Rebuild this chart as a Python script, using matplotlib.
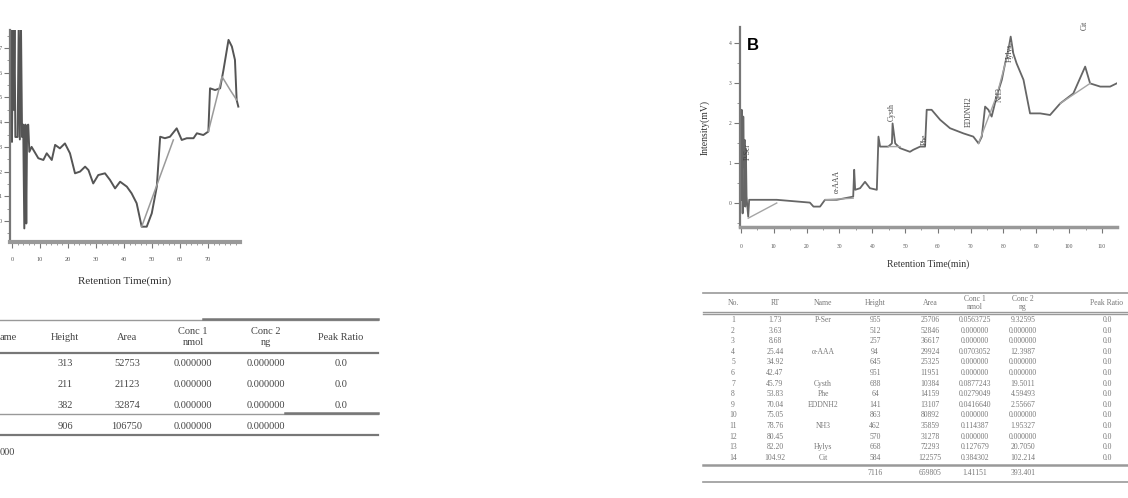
import numpy as np
import matplotlib
matplotlib.use("Agg")
import matplotlib.pyplot as plt
from matplotlib.ticker import MultipleLocator
from matplotlib.lines import Line2D

W, H = 1128, 498
SERIF = ["Liberation Serif", "DejaVu Serif"]
plt.rcParams['font.family'] = SERIF

# ---- panel A chromatogram (left, cut off at the figure edge) ----
a_time = [-0.5, -0.3, 0.0, 0.3, 0.6, 0.9, 1.2, 2.0, 2.4, 2.8, 3.2, 3.6, 4.0, 4.4, 4.8,
          5.1, 5.4, 5.8, 6.2, 7.0, 9.4, 11.2, 12.4, 14.2, 15.4, 17.1, 18.9, 20.7, 22.5,
          24.3, 26.1, 27.3, 29.0, 30.8, 33.2, 35.0, 36.8, 38.6, 41.0, 42.7, 44.5, 46.3,
          48.1, 49.9, 51.7, 52.9, 54.6, 56.4, 58.8, 60.6, 62.4, 64.8, 66.0, 68.3, 70.1,
          70.7, 72.5, 74.3, 75.5, 77.3, 78.5, 79.6, 80.2, 80.8]
a_signal = [4.0, 8.0, 3.2, 8.0, 4.5, 8.0, 3.4, 3.4, 8.0, 3.3, 8.0, 3.4, 3.9, -0.3, 3.9,
            -0.1, 3.8, 3.9, 2.8, 3.0, 2.54, 2.47, 2.74, 2.47, 3.08, 2.94, 3.14, 2.74, 1.93,
            2.0, 2.2, 2.06, 1.52, 1.86, 1.93, 1.66, 1.32, 1.59, 1.39, 1.12, 0.72, -0.23,
            -0.23, 0.31, 1.39, 3.41, 3.35, 3.41, 3.75, 3.28, 3.35, 3.35, 3.55, 3.48, 3.62,
            5.37, 5.30, 5.37, 6.11, 7.33, 7.06, 6.52, 4.90, 4.63]
a_base_time = [46.3, 57.6, np.nan, 70.1, 75.0, 77.9, 80.2]
a_base_signal = [-0.23, 3.28, np.nan, 3.62, 5.84, 5.30, 4.90]
a_xticks = [0, 10, 20, 30, 40, 50, 60, 70]
a_yticks = [0, 1, 2, 3, 4, 5, 6, 7]

# ---- panel A table ----
a_headers = ["Height", "Area", "Conc 1\nnmol", "Conc 2\nng", "Peak Ratio"]
a_height = ["313", "211", "382"]
a_area = ["52753", "21123", "32874"]
a_conc1 = ["0.000000", "0.000000", "0.000000"]
a_conc2 = ["0.000000", "0.000000", "0.000000"]
a_ratio = ["0.0", "0.0", "0.0"]
a_total = ["906", "106750", "0.000000", "0.000000", ""]

# ---- panel B chromatogram ----
b_time = [0.0, 0.2, 0.5, 0.7, 0.9, 1.1, 1.3, 1.5, 1.7, 2.2, 2.5, 10.9, 21.0, 22.1, 24.1,
          25.6, 29.2, 34.2, 34.5, 34.8, 36.3, 37.8, 39.3, 41.4, 41.9, 42.4, 44.9, 46.0,
          46.2, 47.0, 48.5, 51.5, 52.5, 54.6, 56.1, 56.6, 58.1, 60.7, 63.7, 67.8, 70.8,
          72.4, 73.4, 74.4, 75.4, 76.4, 77.9, 79.5, 80.5, 81.5, 82.2, 83.0, 84.0, 86.1,
          88.1, 91.2, 94.2, 97.3, 101.3, 104.9, 106.4, 109.5, 112.5, 114.5]
b_signal = [0.08, 2.33, -0.26, 2.16, 0.91, 1.58, -0.09, 1.33, 0.16, -0.34, 0.08, 0.08,
            0.01, -0.09, -0.09, 0.08, 0.08, 0.16, 0.83, 0.33, 0.37, 0.53, 0.37, 0.33,
            1.66, 1.41, 1.41, 1.49, 1.99, 1.49, 1.37, 1.28, 1.33, 1.41, 1.41, 2.33, 2.33,
            2.08, 1.87, 1.74, 1.66, 1.49, 1.66, 2.41, 2.33, 2.16, 2.66, 3.08, 3.49, 3.83,
            4.16, 3.74, 3.49, 3.08, 2.24, 2.24, 2.20, 2.49, 2.74, 3.41, 2.99, 2.91, 2.91,
            2.99]
b_base_time = [2.2, 10.9, np.nan, 25.6, 34.2, np.nan, 44.9, 48.5, np.nan, 72.4, 78.0,
               82.2, np.nan, 97.3, 106.4]
b_base_signal = [-0.38, 0.0, np.nan, 0.08, 0.12, np.nan, 1.41, 1.41, np.nan, 1.49, 2.7,
                 4.0, np.nan, 2.49, 2.99]
b_xticks = [0, 10, 20, 30, 40, 50, 60, 70, 80, 90, 100, 110]
b_yticks = [0, 1, 2, 3, 4]
peak_names = ["P-Ser", "α-AAA", "Cysth", "Phe", "EDDNH2", "NH3", "Hylys", "Cit"]
peak_x = [2.2, 29.2, 46.0, 56.0, 69.3, 78.8, 82.0, 104.9]
peak_y = [1.28, 0.55, 2.27, 1.58, 2.28, 2.70, 3.75, 4.45]

# ---- panel B table ----
b_headers = ["No.", "RT", "Name", "Height", "Area", "Conc 1\nnmol", "Conc 2\nng", "Peak Ratio"]
b_no = ["1", "2", "3", "4", "5", "6", "7", "8", "9", "10", "11", "12", "13", "14"]
b_rt = ["1.73", "3.63", "8.68", "25.44", "34.92", "42.47", "45.79", "53.83", "70.04",
        "75.05", "78.76", "80.45", "82.20", "104.92"]
b_name = ["P-Ser", "", "", "α-AAA", "", "", "Cysth", "Phe", "EDDNH2", "", "NH3", "",
          "Hylys", "Cit"]
b_height = ["955", "512", "257", "94", "645", "951", "688", "64", "141", "863", "462",
            "570", "668", "584"]
b_area = ["25706", "52846", "36617", "29924", "25325", "11951", "10384", "14159", "13107",
          "80892", "35859", "31278", "72293", "122575"]
b_conc1 = ["0.0563725", "0.000000", "0.000000", "0.0703052", "0.000000", "0.000000",
           "0.0877243", "0.0279049", "0.0416640", "0.000000", "0.114387", "0.000000",
           "0.127679", "0.384302"]
b_conc2 = ["9.32595", "0.000000", "0.000000", "12.3987", "0.000000", "0.000000",
           "19.5011", "4.59493", "2.55667", "0.000000", "1.95327", "0.000000",
           "20.7050", "102.214"]
b_ratio = ["0.0"] * 14
b_total = ["", "", "", "7116", "659805", "1.41151", "393.401", ""]


def fx(x):
    return x / W


def fy(y):
    return 1 - y / H


def hline(fig, x0, x1, y, lw=1.0, color="#888888"):
    fig.add_artist(Line2D([fx(x0), fx(x1)], [fy(y), fy(y)], lw=lw, color=color))


def style_axes(ax, xmin, ymin, tick_fs, xpad):
    for side in ["top", "right"]:
        ax.spines[side].set_visible(False)
    ax.spines["left"].set_color("#777777")
    ax.spines["left"].set_linewidth(1.6)
    ax.spines["bottom"].set_color("#999999")
    ax.spines["bottom"].set_linewidth(3.0)
    ax.xaxis.set_minor_locator(MultipleLocator(xmin))
    ax.yaxis.set_minor_locator(MultipleLocator(ymin))
    ax.tick_params(which="major", length=4, width=0.8, color="#777777",
                   labelsize=tick_fs, labelcolor="#555555", pad=2)
    ax.tick_params(axis="x", which="major", pad=xpad)
    ax.tick_params(which="minor", length=2.5, width=0.6, color="#888888")


fig = plt.figure(figsize=(W / 100, H / 100), dpi=100)

# panel A
axA = fig.add_axes([fx(10), fy(242), fx(230), 212 / H])
axA.plot(a_time, a_signal, color="#555555", lw=1.4)
axA.plot(a_base_time, a_base_signal, color="#9a9a9a", lw=1.1)
axA.set_xlim(-0.71, 81.4)
axA.set_ylim(-0.85, 7.73)
axA.set_xticks(a_xticks)
axA.set_yticks(a_yticks)
style_axes(axA, 2, 0.5, 4.5, 7)
axA.set_xlabel("Retention Time(min)", fontsize=8, labelpad=10, color="#333333")

# panel A table
tc = "#444444"
hline(fig, 0, 378, 320, 1.0, "#999999")
hline(fig, 203, 378, 319, 1.8, "#777777")
hline(fig, 0, 378, 353, 1.6, "#777777")
hline(fig, 0, 378, 414, 1.0, "#999999")
hline(fig, 285, 378, 413, 1.8, "#777777")
hline(fig, 0, 378, 435, 1.6, "#777777")
a_cols = [65, 127, 193, 266, 341]
fig.text(fx(0), fy(337), "ame", ha="left", va="center", fontsize=7.5, color=tc)
for cx, head in zip(a_cols, a_headers):
    fig.text(fx(cx), fy(337), head, ha="center", va="center", fontsize=7.5,
             color=tc, linespacing=1.2)
for i, row in enumerate(zip(a_height, a_area, a_conc1, a_conc2, a_ratio)):
    for cx, val in zip(a_cols, row):
        fig.text(fx(cx), fy(363 + 21 * i), val, ha="center", va="center",
                 fontsize=7.5, color=tc)
for cx, val in zip(a_cols, a_total):
    fig.text(fx(cx), fy(426), val, ha="center", va="center", fontsize=7.5, color=tc)
fig.text(fx(0), fy(452), "000", ha="left", va="center", fontsize=7.5, color=tc)

# panel B
fig.text(fx(747), fy(45), "B", ha="left", va="center", fontsize=12,
         fontweight="bold", family=["Liberation Sans", "DejaVu Sans"])
axB = fig.add_axes([fx(740), fy(227), fx(377), 200 / H])
axB.plot(b_time, b_signal, color="#666666", lw=1.3)
axB.plot(b_base_time, b_base_signal, color="#a5a5a5", lw=1.0)
axB.set_xlim(-0.3, 114.6)
axB.set_ylim(-0.6, 4.4)
axB.set_xticks(b_xticks)
axB.set_yticks(b_yticks)
style_axes(axB, 5, 0.5, 4, 8)
axB.spines["bottom"].set_linewidth(2.5)
axB.set_xlabel("Retention Time(min)", fontsize=7, labelpad=8, color="#333333")
axB.set_ylabel("Intensity(mV)", fontsize=7, labelpad=14, color="#333333")
for name, px_, py_ in zip(peak_names, peak_x, peak_y):
    axB.text(px_, py_, name, rotation=90, ha="center", va="center", fontsize=5.5,
             color="#444444", clip_on=False)

# panel B table
hline(fig, 703, 1128, 293, 1.2, "#999999")
hline(fig, 703, 1128, 312, 1.0, "#999999")
hline(fig, 703, 1128, 314, 1.0, "#999999")
hline(fig, 703, 1128, 465, 1.8, "#999999")
hline(fig, 703, 1128, 482, 1.2, "#999999")
b_cols = [733, 775, 823, 875, 930, 975, 1023, 1107]
tb = "#777777"
for cx, head in zip(b_cols, b_headers):
    fig.text(fx(cx), fy(303), head, ha="center", va="center", fontsize=5.5,
             color=tb, linespacing=1.0)
rows = zip(b_no, b_rt, b_name, b_height, b_area, b_conc1, b_conc2, b_ratio)
for i, row in enumerate(rows):
    for cx, val in zip(b_cols, row):
        fig.text(fx(cx), fy(320 + 10.6 * i), val, ha="center", va="center",
                 fontsize=5.5, color=tb)
for cx, val in zip(b_cols, b_total):
    fig.text(fx(cx), fy(473), val, ha="center", va="center", fontsize=5.5, color=tb)

fig.savefig("out.png", dpi=100)
